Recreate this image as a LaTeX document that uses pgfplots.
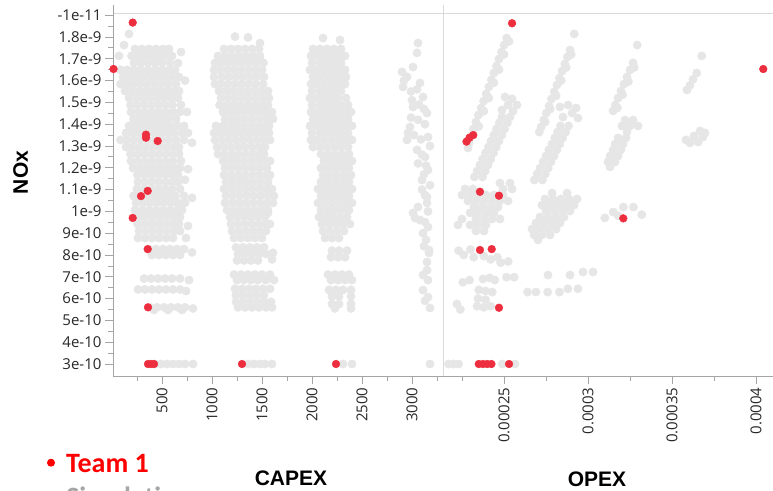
\documentclass[border=0pt]{standalone}
\usepackage{pgfplots}
\pgfplotsset{compat=1.18}
\usepackage{fontspec}
\setmainfont{Liberation Sans}
\newfontfamily\ticklabelfont{Open Sans}
\newfontfamily\legendfont{Carlito}

\definecolor{simgrey}{RGB}{230,230,230}
\definecolor{teamred}{RGB}{236,46,62}
\definecolor{spinegrey}{RGB}{165,165,165}
\definecolor{framegrey}{RGB}{218,218,218}
\definecolor{labelgrey}{RGB}{40,40,40}

\pgfplotsset{
  panel/.style={
    scale only axis, height=363pt, width=330pt,
    ymin=2.45, ymax=19.1,
    clip=false,
    tick align=outside,
    major tick length=8pt, minor tick length=5pt,
    tick style={draw=spinegrey, line width=0.8pt},
    axis line style={draw=spinegrey, line width=0.8pt, -},
    tick label style={font=\ticklabelfont\fontsize{15}{16}\selectfont, text=labelgrey},
    xticklabel style={rotate=90, anchor=east},
  },
  sim/.style={only marks, mark=*, mark size=4.2pt, color=simgrey,
    mark options={draw=none, fill=simgrey}},
  team/.style={only marks, mark=*, mark size=3.9pt, color=teamred,
    mark options={draw=none, fill=teamred}},
}

\begin{document}
\begin{tikzpicture}[x=1pt,y=1pt]
\path[use as bounding box] (0,0) rectangle (773,490);

% frame: top rule, panel divider, spine stubs above the plot area
\draw[framegrey, line width=0.8pt] (113,477) -- (773,477);
\draw[framegrey, line width=0.8pt] (443,114) -- (443,485);
\draw[spinegrey, line width=0.8pt] (113,477) -- (113,485);

% ---------------- CAPEX panel ----------------
\begin{axis}[panel,
  at={(113pt,114pt)}, anchor=south west,
  xmin=10, xmax=3310,
  axis x line*=bottom, axis y line*=left,
  xtick={500,1000,1500,2000,2500,3000},
  xticklabels={500,1000,1500,2000,2500,3000},
  minor xtick={250,750,1250,1750,2250,2750,3250},
  ytick={3,4,5,6,7,8,9,10,11,12,13,14,15,16,17,18,19},
  yticklabels={3e-10,4e-10,5e-10,6e-10,7e-10,8e-10,9e-10,1e-9,1.1e-9,1.2e-9,1.3e-9,1.4e-9,1.5e-9,1.6e-9,1.7e-9,1.8e-9,-1e-11},
  minor ytick={3.5,4.5,5.5,6.5,7.5,8.5,9.5,10.5,11.5,12.5,13.5,14.5,15.5,16.5,17.5,18.5},
]
% simulations, first CAPEX group
\addplot[sim] coordinates {
(170,18.14) (120,17.63) (70,17.13) (690,17.31) (660,16.80) (730,16.00) (800,13.15) (760,11.94) (730,11.45) (800,10.62) (760,9.33) (740,8.78)
(230,17.45) (300,17.45) (370,17.45) (440,17.45) (510,17.45) (570,17.45)
(195,17.13) (265,17.13) (335,17.13) (405,17.13) (475,17.13) (545,17.13) (600,17.13)
(220,16.81) (290,16.81) (360,16.81) (430,16.81) (500,16.81) (580,16.81)
(85,16.49) (150,16.49) (220,16.49) (290,16.49) (360,16.49) (430,16.49) (500,16.49) (570,16.49) (630,16.49)
(110,16.17) (180,16.17) (250,16.17) (320,16.17) (390,16.17) (460,16.17) (530,16.17) (600,16.17) (670,16.17)
(85,15.84) (150,15.84) (215,15.84) (285,15.84) (355,15.84) (425,15.84) (495,15.84) (565,15.84) (640,15.84)
(130,15.52) (200,15.52) (270,15.52) (340,15.52) (410,15.52) (480,15.52) (550,15.52) (620,15.52) (670,15.52)
(170,15.20) (240,15.20) (310,15.20) (380,15.20) (450,15.20) (520,15.20) (590,15.20) (660,15.20)
(185,14.88) (255,14.88) (325,14.88) (395,14.88) (465,14.88) (535,14.88) (605,14.88) (690,14.88)
(190,14.56) (260,14.56) (330,14.56) (400,14.56) (470,14.56) (540,14.56) (610,14.56) (680,14.56) (750,14.56)
(215,14.24) (285,14.24) (355,14.24) (425,14.24) (495,14.24) (565,14.24) (640,14.24)
(170,13.92) (240,13.92) (310,13.92) (380,13.92) (450,13.92) (520,13.92) (590,13.92) (660,13.92) (720,13.92)
(140,13.60) (205,13.60) (275,13.60) (345,13.60) (415,13.60) (485,13.60) (555,13.60) (625,13.60) (700,13.60) (760,13.60)
(85,13.28) (150,13.28) (220,13.28) (290,13.28) (360,13.28) (430,13.28) (500,13.28) (570,13.28) (640,13.28) (720,13.28)
(140,12.95) (200,12.95) (270,12.95) (340,12.95) (410,12.95) (480,12.95) (550,12.95) (620,12.95) (670,12.95)
(185,12.63) (255,12.63) (325,12.63) (395,12.63) (465,12.63) (535,12.63) (605,12.63) (670,12.63)
(190,12.31) (260,12.31) (330,12.31) (400,12.31) (470,12.31) (540,12.31) (610,12.31) (690,12.31)
(210,11.99) (280,11.99) (350,11.99) (420,11.99) (490,11.99) (560,11.99) (630,11.99) (680,11.99)
(255,11.67) (325,11.67) (395,11.67) (465,11.67) (535,11.67) (605,11.67) (660,11.67)
(260,11.35) (330,11.35) (400,11.35) (470,11.35) (540,11.35) (610,11.35) (660,11.35)
(250,11.03) (320,11.03) (390,11.03) (460,11.03) (530,11.03) (600,11.03) (680,11.03)
(215,10.71) (285,10.71) (355,10.71) (425,10.71) (495,10.71) (565,10.71) (635,10.71) (720,10.71)
(240,10.39) (310,10.39) (380,10.39) (450,10.39) (520,10.39) (590,10.39) (660,10.39) (730,10.39)
(230,10.06) (300,10.06) (370,10.06) (440,10.06) (510,10.06) (580,10.06) (650,10.06) (700,10.06)
(270,9.74) (340,9.74) (410,9.74) (480,9.74) (550,9.74) (620,9.74) (680,9.74)
(255,9.42) (325,9.42) (395,9.42) (465,9.42) (535,9.42) (605,9.42) (670,9.42)
(270,9.10) (340,9.10) (410,9.10) (480,9.10) (550,9.10) (620,9.10) (680,9.10)
(260,8.78) (330,8.78) (400,8.78) (470,8.78) (540,8.78) (610,8.78)
(370,8.27) (440,8.27) (510,8.27) (580,8.27) (650,8.27) (720,8.27) (800,8.12)
(400,8.00) (470,8.00) (540,8.00) (610,8.00) (680,8.00)
(320,6.92) (390,6.92) (460,6.92) (530,6.92) (600,6.92) (680,6.92) (770,6.85)
(260,6.42) (330,6.42) (400,6.42) (470,6.42) (540,6.42) (610,6.42) (680,6.42) (740,6.35)
(380,5.60) (450,5.60) (520,5.60) (590,5.60) (660,5.60) (730,5.60) (420,5.48) (560,5.48) (700,5.48) (810,5.55)
(430,3) (490,3) (550,3) (610,3) (670,3) (730,3) (810,3)
};
% simulations, second CAPEX group
\addplot[sim] coordinates {
(1230,18.02) (1360,17.98) (1480,17.72)
(1120,17.45) (1190,17.45) (1260,17.45) (1330,17.45) (1400,17.45) (1470,17.45)
(1060,17.13) (1130,17.13) (1200,17.13) (1270,17.13) (1340,17.13) (1410,17.13) (1480,17.13)
(1030,16.81) (1095,16.81) (1165,16.81) (1235,16.81) (1305,16.81) (1375,16.81) (1445,16.81) (1515,16.81)
(1020,16.49) (1080,16.49) (1150,16.49) (1220,16.49) (1290,16.49) (1360,16.49) (1430,16.49) (1500,16.49)
(1020,16.17) (1100,16.17) (1170,16.17) (1240,16.17) (1310,16.17) (1380,16.17) (1450,16.17) (1520,16.17)
(1030,15.84) (1085,15.84) (1155,15.84) (1225,15.84) (1295,15.84) (1365,15.84) (1435,15.84) (1510,15.84)
(1070,15.52) (1140,15.52) (1210,15.52) (1280,15.52) (1350,15.52) (1420,15.52) (1490,15.52) (1560,15.52)
(1090,15.20) (1160,15.20) (1230,15.20) (1300,15.20) (1370,15.20) (1440,15.20) (1510,15.20) (1570,15.20)
(1075,14.88) (1145,14.88) (1215,14.88) (1285,14.88) (1355,14.88) (1425,14.88) (1495,14.88) (1560,14.88)
(1110,14.56) (1180,14.56) (1250,14.56) (1320,14.56) (1390,14.56) (1460,14.56) (1530,14.56) (1600,14.56)
(1130,14.24) (1200,14.24) (1270,14.24) (1340,14.24) (1410,14.24) (1480,14.24) (1550,14.24) (1610,14.24)
(1040,13.92) (1110,13.92) (1180,13.92) (1250,13.92) (1320,13.92) (1390,13.92) (1460,13.92) (1530,13.92) (1570,13.92)
(1020,13.60) (1080,13.60) (1150,13.60) (1220,13.60) (1290,13.60) (1360,13.60) (1430,13.60) (1500,13.60) (1570,13.60)
(1030,13.28) (1100,13.28) (1170,13.28) (1240,13.28) (1310,13.28) (1380,13.28) (1450,13.28) (1520,13.28) (1580,13.28)
(1050,12.95) (1120,12.95) (1190,12.95) (1260,12.95) (1330,12.95) (1400,12.95) (1470,12.95) (1530,12.95)
(1060,12.63) (1130,12.63) (1200,12.63) (1270,12.63) (1340,12.63) (1410,12.63) (1480,12.63) (1520,12.63)
(1110,12.31) (1180,12.31) (1250,12.31) (1320,12.31) (1390,12.31) (1460,12.31) (1530,12.31) (1580,12.31)
(1130,11.99) (1200,11.99) (1270,11.99) (1340,11.99) (1410,11.99) (1480,11.99) (1550,11.99)
(1120,11.67) (1190,11.67) (1260,11.67) (1330,11.67) (1400,11.67) (1470,11.67) (1540,11.67) (1580,11.67)
(1140,11.35) (1210,11.35) (1280,11.35) (1350,11.35) (1420,11.35) (1490,11.35) (1560,11.35)
(1120,11.03) (1190,11.03) (1260,11.03) (1330,11.03) (1400,11.03) (1470,11.03) (1540,11.03) (1600,11.03)
(1140,10.71) (1210,10.71) (1280,10.71) (1350,10.71) (1420,10.71) (1490,10.71) (1560,10.71) (1620,10.71)
(1130,10.39) (1200,10.39) (1270,10.39) (1340,10.39) (1410,10.39) (1480,10.39) (1550,10.39) (1610,10.39)
(1150,10.06) (1220,10.06) (1290,10.06) (1360,10.06) (1430,10.06) (1500,10.06) (1560,10.06) (1560,9.93)
(1180,9.74) (1250,9.74) (1320,9.74) (1390,9.74) (1460,9.74) (1530,9.74)
(1190,9.42) (1260,9.42) (1330,9.42) (1400,9.42) (1470,9.42) (1540,9.42) (1580,9.42)
(1200,9.10) (1270,9.10) (1340,9.10) (1410,9.10) (1480,9.10) (1540,9.10)
(1220,8.78) (1290,8.78) (1360,8.78) (1430,8.78) (1500,8.78)
(1240,8.35) (1310,8.35) (1380,8.35) (1450,8.35) (1520,8.35) (1610,8.10)
(1260,8.05) (1330,8.05) (1400,8.05) (1470,8.05) (1540,8.05)
(1250,7.75) (1320,7.75) (1390,7.75) (1460,7.75) (1600,7.80)
(1220,7.10) (1290,7.10) (1360,7.10) (1430,7.10) (1500,7.10) (1580,7.10)
(1250,6.85) (1320,6.85) (1390,6.85) (1460,6.85) (1540,6.85) (1620,6.85)
(1230,6.45) (1300,6.45) (1370,6.45) (1440,6.45) (1510,6.45) (1580,6.45)
(1240,6.15) (1310,6.15) (1380,6.15) (1450,6.15) (1520,6.15)
(1240,5.85) (1310,5.85) (1380,5.85) (1450,5.85) (1520,5.85) (1590,5.85)
(1260,5.60) (1330,5.60) (1400,5.60) (1470,5.60) (1540,5.60) (1600,5.60)
(1360,3) (1420,3) (1480,3) (1530,3) (1600,3)
};
% simulations, third CAPEX group
\addplot[sim] coordinates {
(2110,17.95) (2280,17.86)
(2010,17.45) (2080,17.45) (2150,17.45) (2220,17.45) (2290,17.45)
(1990,17.13) (2050,17.13) (2120,17.13) (2190,17.13) (2260,17.13) (2330,17.13)
(2000,16.81) (2080,16.81) (2150,16.81) (2220,16.81) (2290,16.81)
(1980,16.49) (2050,16.49) (2120,16.49) (2190,16.49) (2260,16.49) (2330,16.49)
(2010,16.17) (2080,16.17) (2150,16.17) (2220,16.17) (2290,16.17) (2340,16.17)
(1990,15.84) (2050,15.84) (2120,15.84) (2190,15.84) (2260,15.84) (2330,15.84)
(2000,15.52) (2080,15.52) (2150,15.52) (2220,15.52) (2290,15.52)
(1980,15.20) (2050,15.20) (2120,15.20) (2190,15.20) (2260,15.20) (2340,15.20)
(2000,14.88) (2080,14.88) (2150,14.88) (2220,14.88) (2290,14.88) (2360,14.88)
(1990,14.56) (2050,14.56) (2120,14.56) (2190,14.56) (2260,14.56) (2330,14.56) (2390,14.56)
(2010,14.24) (2080,14.24) (2150,14.24) (2220,14.24) (2290,14.24) (2360,14.24)
(1980,13.92) (2050,13.92) (2120,13.92) (2190,13.92) (2260,13.92) (2330,13.92) (2400,13.92)
(2000,13.60) (2080,13.60) (2150,13.60) (2220,13.60) (2290,13.60) (2360,13.60)
(1990,13.28) (2050,13.28) (2120,13.28) (2190,13.28) (2260,13.28) (2330,13.28) (2400,13.28)
(2010,12.95) (2080,12.95) (2150,12.95) (2220,12.95) (2290,12.95) (2360,12.95)
(2090,12.63) (2160,12.63) (2230,12.63) (2300,12.63) (2370,12.63)
(2120,12.31) (2190,12.31) (2260,12.31) (2330,12.31) (2400,12.31)
(2090,11.99) (2160,11.99) (2230,11.99) (2300,11.99) (2370,11.99)
(2110,11.67) (2180,11.67) (2250,11.67) (2320,11.67) (2390,11.67)
(2090,11.35) (2160,11.35) (2230,11.35) (2300,11.35) (2370,11.35)
(2060,11.03) (2130,11.03) (2200,11.03) (2270,11.03) (2340,11.03) (2400,11.03)
(2090,10.71) (2160,10.71) (2230,10.71) (2300,10.71) (2370,10.71)
(2060,10.39) (2130,10.39) (2200,10.39) (2270,10.39) (2340,10.39) (2400,10.39)
(2090,10.06) (2160,10.06) (2230,10.06) (2300,10.06) (2370,10.06)
(2070,9.74) (2140,9.74) (2210,9.74) (2280,9.74) (2350,9.74)
(2100,9.42) (2170,9.42) (2240,9.42) (2310,9.42) (2380,9.42)
(2110,9.10) (2180,9.10) (2250,9.10) (2320,9.10)
(2130,8.78) (2200,8.78) (2270,8.78)
(2200,8.20) (2270,8.20) (2350,8.20) (2190,7.90) (2260,7.90) (2330,7.90)
(2160,7.10) (2230,7.10) (2300,7.10) (2370,7.10)
(2190,6.85) (2260,6.85) (2330,6.85) (2400,6.85)
(2170,6.40) (2240,6.40) (2310,6.40) (2390,6.40)
(2200,6.10) (2270,6.10) (2390,6.10) (2200,5.75) (2270,5.75) (2390,5.75) (2230,5.55) (2390,5.55)
(2310,3) (2400,3)
};
% simulations, fourth CAPEX group
\addplot[sim] coordinates {
(3060,17.72) (3050,17.27) (3010,16.62) (2950,16.17) (2910,15.71) (3080,15.89) (3110,15.25) (3010,14.79)
(3150,14.51) (2980,13.87) (3160,13.41) (2950,13.28) (3050,12.82) (3130,12.50) (3160,11.90) (3100,11.44)
(3150,10.66) (3130,10.75) (3150,10.39) (3060,10.20) (3010,9.93) (3030,9.70) (3130,9.51) (3160,9.28)
(3110,9.00) (3170,8.23) (3170,8.10) (3150,7.68) (3110,7.08) (3160,6.85) (3110,6.39) (3160,6.07) (3180,5.57) (3180,3)
(2900,16.40) (2920,16.00) (2990,15.50) (3050,15.60) (3000,15.10) (3070,14.90) (3120,14.70) (2990,14.30)
(3060,14.20) (3130,14.00) (2960,13.60) (3020,13.50) (3090,13.30) (3180,13.00) (3100,12.60) (3060,12.20)
(3140,12.10) (3120,11.70) (3180,11.20) (3100,11.00) (3160,10.00) (3080,9.60) (3140,8.70) (3120,8.40)
(3150,7.30) (3130,5.90)
};
% Team 1
\addplot[team] coordinates {
(207,18.66) (15,16.53) (340,13.52) (340,13.38) (457,13.23) (357,10.94) (290,10.70) (207,9.70)
(357,8.27) (360,5.60) (360,3) (390,3) (420,3) (1300,3) (2240,3)
};
\end{axis}

% ---------------- OPEX panel ----------------
\begin{axis}[panel,
  at={(443pt,114pt)}, anchor=south west,
  xmin=21.37, xmax=41.01,
  axis x line*=bottom, axis y line=none,
  ytick=\empty,
  xtick={25,30,35,40},
  xticklabels={0.00025,0.0003,0.00035,0.0004},
  minor xtick={22.5,27.5,32.5,37.5},
]
% simulations, first OPEX group
\addplot[sim] coordinates {
(25.16,17.95) (25.01,17.63) (24.86,17.31) (24.70,16.99) (24.55,16.67) (24.40,16.35) (24.25,16.03) (24.10,15.71)
(23.94,15.39) (23.79,15.06) (23.64,14.74) (23.48,14.42) (23.33,14.10) (23.18,13.78) (23.04,13.46) (22.92,13.14) (22.86,12.91)
(25.30,17.80) (25.00,17.20) (24.70,16.50) (24.40,15.90) (24.10,15.20) (23.80,14.60) (23.50,13.90)
(25.06,15.25) (25.48,15.16) (25.77,14.88) (25.24,14.88) (24.88,14.65) (25.54,14.60)
(24.88,14.33) (25.36,14.33) (24.72,14.06) (25.20,14.06) (24.55,13.78) (25.03,13.78) (24.39,13.50) (24.87,13.50)
(24.23,13.23) (24.70,13.23) (24.07,12.95) (24.54,12.95) (23.90,12.68) (24.38,12.68) (23.73,12.40) (24.21,12.40)
(23.57,12.13) (24.05,12.13) (23.40,11.85) (23.88,11.85) (23.24,11.58) (23.72,11.58)
(24.76,11.30) (25.36,11.30) (22.68,11.03) (23.15,11.03) (24.94,11.03) (25.48,11.03)
(22.50,10.75) (22.98,10.75) (23.45,10.75) (23.93,10.75) (24.40,10.75) (24.94,10.75)
(22.86,10.48) (23.33,10.48) (23.81,10.48) (24.29,10.48) (24.76,10.48) (25.24,10.48)
(23.21,10.20) (23.69,10.20) (24.17,10.20) (24.64,10.20) (22.98,9.93) (23.45,9.93) (23.93,9.93) (24.40,9.93)
(22.50,9.65) (23.33,9.65) (23.81,9.65) (24.29,9.65) (24.76,9.65) (22.26,9.38) (22.98,9.38) (23.45,9.38) (23.93,9.38)
(23.33,9.10) (23.81,9.10)
(22.30,8.20) (22.60,8.00) (23.00,8.25) (23.20,7.90) (23.80,7.95) (24.20,7.80) (24.60,7.90) (24.80,7.65) (25.25,7.70)
(22.55,6.75) (22.95,6.85) (23.75,6.90) (24.15,6.95) (24.45,6.85) (25.15,6.98) (25.60,6.98)
(22.20,5.75) (22.40,5.50) (23.50,6.40) (23.90,6.35) (24.30,6.30) (23.45,6.00) (23.90,5.95) (23.40,5.65) (23.80,5.60) (24.20,5.65)
(21.70,3) (22.00,3) (22.30,3) (24.90,3) (25.65,3)
};
% simulations, second OPEX group
\addplot[sim] coordinates {
(29.18,18.14) (28.93,17.40) (28.77,17.08) (28.62,16.76) (28.46,16.44) (28.30,16.12) (28.15,15.80) (27.99,15.48)
(27.83,15.16) (27.68,14.83) (27.52,14.51) (27.37,14.19) (27.21,13.87) (27.10,13.64)
(29.00,17.20) (28.70,16.60) (28.40,16.00) (28.10,15.30) (27.75,14.70) (27.45,14.10)
(28.33,14.79) (28.81,14.88) (29.29,14.74) (29.05,14.51) (28.51,14.33) (29.40,14.28)
(28.36,13.92) (28.84,13.92) (28.19,13.64) (28.67,13.64) (28.02,13.37) (28.49,13.37) (27.85,13.09) (28.32,13.09)
(27.67,12.82) (28.15,12.82) (27.50,12.54) (27.98,12.54) (27.33,12.27) (27.80,12.27) (27.15,11.99) (27.63,11.99)
(26.98,11.72) (27.46,11.72) (26.81,11.44) (27.29,11.44)
(27.86,10.84) (28.75,10.84) (27.44,10.57) (27.92,10.57) (28.39,10.57) (28.87,10.57) (29.35,10.57)
(27.26,10.29) (27.74,10.29) (28.21,10.29) (28.69,10.29) (29.17,10.29) (27.50,10.02) (27.98,10.02) (28.45,10.02) (28.93,10.02)
(27.14,9.74) (27.62,9.74) (28.10,9.74) (28.57,9.74) (26.90,9.47) (27.38,9.47) (27.86,9.47) (28.33,9.47)
(26.67,9.19) (27.14,9.19) (27.62,9.19) (28.10,9.19) (26.79,8.92) (27.26,8.92) (27.74,8.92) (27.02,8.69)
(27.62,7.08) (28.93,7.08) (29.70,7.22) (30.30,7.22)
(26.40,6.30) (26.90,6.30) (27.60,6.30) (28.30,6.30) (28.80,6.45) (29.40,6.45)
};
% simulations, third and fourth OPEX groups
\addplot[sim] coordinates {
(32.93,17.63) (32.68,16.81) (32.50,16.49) (32.32,16.17) (32.14,15.84) (31.96,15.52) (31.79,15.20) (31.63,14.88) (31.49,14.61)
(32.75,16.60) (32.40,15.95) (32.05,15.35) (31.75,14.75)
(32.20,14.19) (32.68,14.19) (32.02,13.92) (32.50,13.92) (32.98,13.92) (32.32,13.64) (31.79,13.37) (32.26,13.37)
(31.61,13.09) (32.08,13.09) (31.49,12.82) (31.96,12.82) (31.31,12.54) (31.79,12.54) (31.19,12.27) (31.61,12.27) (31.31,12.04)
(31.00,9.70) (31.50,9.97) (32.10,10.20) (32.70,10.20) (33.20,9.85) (31.80,9.80)
(36.77,17.13) (36.47,16.35) (36.25,16.06) (36.07,15.78) (35.89,15.57)
(35.83,13.28) (36.31,13.46) (36.67,13.69) (36.96,13.60) (36.07,13.14) (36.55,13.18) (36.84,13.41)
};
% Team 1
\addplot[team] coordinates {
(25.48,18.63) (40.43,16.53) (23.17,13.50) (22.95,13.38) (22.77,13.20) (23.57,10.90) (24.70,10.72) (32.10,9.68)
(23.57,8.23) (24.27,8.27) (24.70,5.58) (23.50,3) (23.75,3) (24.00,3) (24.25,3) (25.30,3)
};
\end{axis}

% axis titles
\node[rotate=90, anchor=base, font=\bfseries\fontsize{21}{21}\selectfont] at (28,317.5) {NOx};
\node[anchor=base, font=\bfseries\fontsize{21}{21}\selectfont] at (291,5) {CAPEX};
\node[anchor=base, font=\bfseries\fontsize{21}{21}\selectfont] at (597,3.3) {OPEX};

% legend (second entry runs past the lower edge of the page)
\fill[red] (51,27.3) circle (4);
\node[anchor=base west, inner sep=0pt, text=red, font=\legendfont\bfseries\fontsize{28}{28}\selectfont] at (66,18) {Team 1};
\fill[black!35] (51,-6) circle (4);
\node[anchor=base west, inner sep=0pt, text=black!35, font=\legendfont\bfseries\fontsize{28}{28}\selectfont] at (66,-16) {Simulations};
\end{tikzpicture}
\end{document}
